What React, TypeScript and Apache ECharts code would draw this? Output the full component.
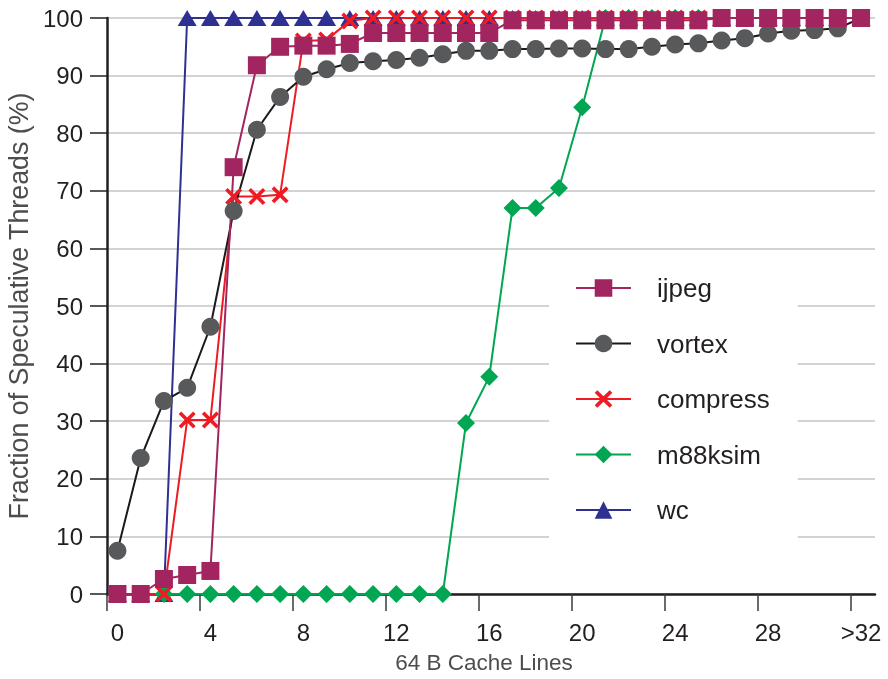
import React, { useEffect, useRef } from "react";
import * as echarts from "echarts";

const cacheLines = [0, 1, 2, 3, 4, 5, 6, 7, 8, 9, 10, 11, 12, 13, 14, 15, 16, 17, 18, 19, 20, 21, 22, 23, 24, 25, 26, 27, 28, 29, 30, 31, 32];

const ijpeg = [0, 0, 2.6, 3.3, 4.0, 74.1, 91.8, 95, 95.2, 95.2, 95.5, 97.4, 97.4, 97.4, 97.4, 97.4, 97.4, 99.6, 99.6, 99.6, 99.6, 99.6, 99.6, 99.6, 99.6, 99.6, 100, 100, 100, 100, 100, 100, 100];
const vortex = [7.5, 23.6, 33.5, 35.8, 46.4, 66.5, 80.6, 86.3, 89.8, 91.1, 92.2, 92.5, 92.7, 93.1, 93.7, 94.3, 94.3, 94.6, 94.6, 94.7, 94.7, 94.6, 94.6, 95.0, 95.4, 95.6, 96.1, 96.5, 97.3, 97.8, 97.9, 98.2, 100];
const compress = [0, 0, 0, 30.2, 30.2, 69, 69, 69.3, 96, 96.2, 99.5, 100, 100, 100, 100, 100, 100, 100, 100, 100, 100, 100, 100, 100, 100, 100, 100, 100, 100, 100, 100, 100, 100];
const m88ksim = [0, 0, 0, 0, 0, 0, 0, 0, 0, 0, 0, 0, 0, 0, 0, 29.7, 37.7, 67, 67, 70.5, 84.5, 100, 100, 100, 100, 100, 100, 100, 100, 100, 100, 100, 100];
const wc = [0, 0, 0, 100, 100, 100, 100, 100, 100, 100, 100, 100, 100, 100, 100, 100, 100, 100, 100, 100, 100, 100, 100, 100, 100, 100, 100, 100, 100, 100, 100, 100, 100];

const xTickLabelValues = [0, 4, 8, 12, 16, 20, 24, 28, 32];
const xTickLabels = ["0", "4", "8", "12", "16", "20", "24", "28", ">32"];

const legendOrder = ["ijpeg", "vortex", "compress", "m88ksim", "wc"];

const X_PATH =
  "path://M0,3 L3,0 L10,7 L17,0 L20,3 L13,10 L20,17 L17,20 L10,13 L3,20 L0,17 L7,10 Z";

const FONT = "'Liberation Sans', Arial, Helvetica, sans-serif";
const TEXT = "#231f20";

function pairs(vals: number[]) {
  return vals.map((v, i) => [cacheLines[i], v]);
}

export default function App() {
  const ref = useRef<HTMLDivElement>(null);
  useEffect(() => {
    if (!ref.current) return;
    const chart = echarts.init(ref.current, null, { renderer: "svg" });
    const X_MIN = -0.45;
    const tickPositions = xTickLabelValues.map((v) => v + X_MIN);
    const mk = (name: string, data: number[], color: string, symbol: any, size: any, lineColor?: string) => ({
      name,
      type: "line",
      data: pairs(data),
      symbol,
      symbolSize: size,
      clip: false,
      lineStyle: { color: lineColor || color, width: 2 },
      itemStyle: { color, borderWidth: 0 },
      emphasis: { disabled: true },
    });
    chart.setOption({
      animation: false,
      textStyle: { fontFamily: FONT },
      grid: { left: 107, right: 13, top: 18, bottom: 85, containLabel: false, outerBoundsMode: "none" },
      legend: {
        data: legendOrder,
        orient: "vertical",
        left: 549,
        top: 253,
        padding: [22, 28, 20, 26],
        backgroundColor: "#ffffff",
        itemWidth: 55,
        itemHeight: 22,
        itemGap: 29.5,
        selectedMode: false,
        textStyle: { fontFamily: FONT, fontSize: 26, color: TEXT, padding: [0, 0, 0, 21] },
      },
      xAxis: {
        type: "value",
        min: X_MIN,
        max: 32.6,
        name: "64 B Cache Lines",
        nameLocation: "middle",
        nameGap: 57,
        nameTextStyle: { fontFamily: FONT, fontSize: 22.5, color: "#4d4d4f", padding: [0, 14, 0, 0] },
        axisLine: { show: true, onZero: false, lineStyle: { color: TEXT, width: 2.5 } },
        axisTick: {
          show: true,
          inside: false,
          length: 17,
          customValues: tickPositions,
          lineStyle: { color: "#3a3a3a", width: 1.5 },
        },
        axisLabel: {
          customValues: xTickLabelValues,
          formatter: (v: number) => {
            const i = xTickLabelValues.indexOf(Math.round(v));
            return i >= 0 ? xTickLabels[i] : "";
          },
          fontFamily: FONT,
          fontSize: 24,
          color: TEXT,
          margin: 26,
        },
        splitLine: { show: false },
      },
      yAxis: {
        type: "value",
        min: 0,
        max: 100,
        interval: 10,
        name: "Fraction of Speculative Threads (%)",
        nameLocation: "middle",
        nameGap: 72,
        nameTextStyle: { fontFamily: FONT, fontSize: 26.8, color: "#4d4d4f" },
        axisLine: { show: true, onZero: false, lineStyle: { color: TEXT, width: 2.5 } },
        axisTick: { show: true, inside: false, length: 17, lineStyle: { color: TEXT, width: 1.5 } },
        axisLabel: { fontFamily: FONT, fontSize: 24, color: TEXT, margin: 24 },
        splitLine: { show: true, lineStyle: { color: "#c4c4c4", width: 1.5 } },
      },
      series: [
        mk("wc", wc, "#2e3192", "triangle", [19, 16]),
        mk("m88ksim", m88ksim, "#00a651", "diamond", 18),
        mk("compress", compress, "#ed1c24", X_PATH, 17),
        mk("vortex", vortex, "#58595b", "circle", 18, "#1a1a1a"),
        mk("ijpeg", ijpeg, "#a2255f", "rect", 18),
      ],
    });
    return () => chart.dispose();
  }, []);
  return <div ref={ref} style={{ position: "fixed", left: 0, top: 0, width: 888, height: 679 }} />;
}
